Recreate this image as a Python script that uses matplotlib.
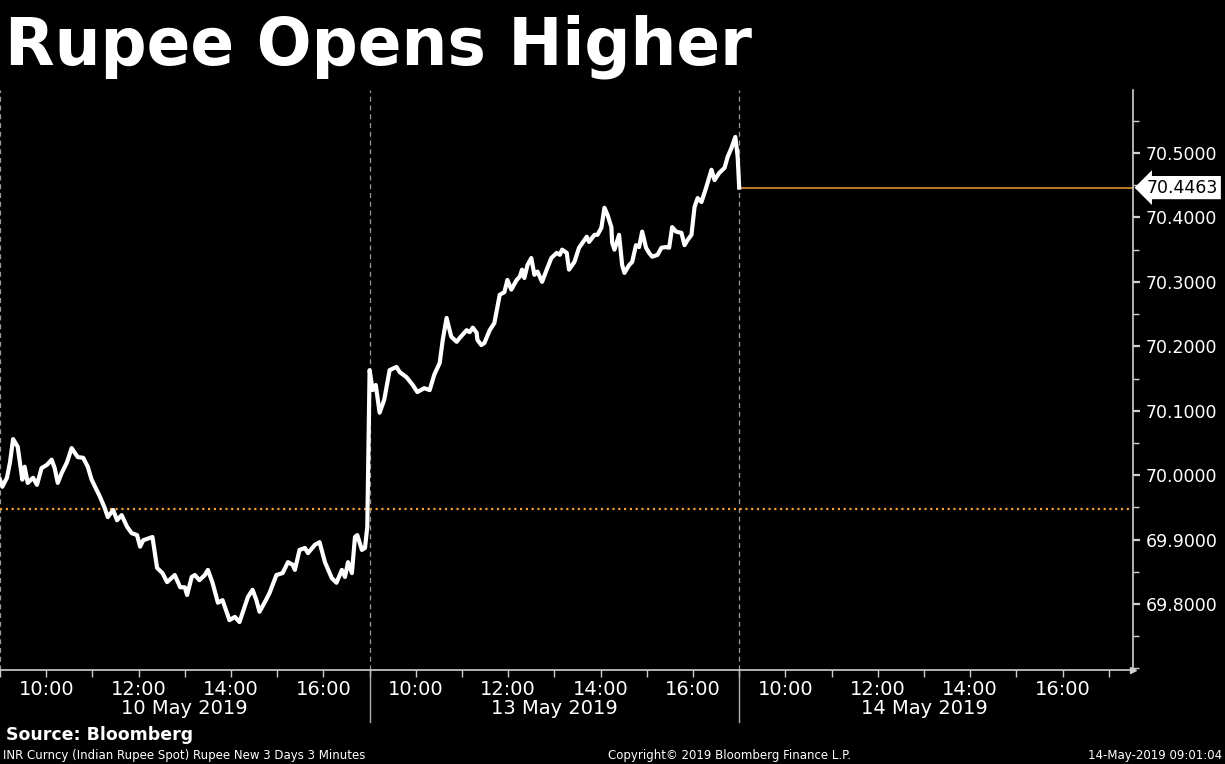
import numpy as np
import matplotlib
matplotlib.use("Agg")
import matplotlib.pyplot as plt
import matplotlib.transforms as mtransforms
from matplotlib.ticker import FixedLocator, MultipleLocator

plt.rcParams['font.family'] = ['DejaVu Sans']

# INR spot, 3 minute bars
may10_times = ["09:00", "09:03", "09:09", "09:13", "09:17", "09:23", "09:29", "09:32", "09:36", "09:43",
               "09:48", "09:54", "10:01", "10:07", "10:11", "10:15", "10:20", "10:27", "10:33", "10:41",
               "10:48", "10:54", "10:59", "11:10", "11:16", "11:20", "11:27", "11:32", "11:38", "11:45",
               "11:51", "11:58", "12:02", "12:06", "12:18", "12:24", "12:31", "12:37", "12:47", "12:54",
               "13:00", "13:03", "13:09", "13:13", "13:19", "13:26", "13:30", "13:36", "13:43", "13:49",
               "13:58", "14:05", "14:11", "14:22", "14:28", "14:33", "14:37", "14:44", "14:50", "14:59",
               "15:07", "15:14", "15:20", "15:23", "15:29", "15:36", "15:40", "15:49", "15:55", "16:02",
               "16:11", "16:17", "16:24", "16:28", "16:32", "16:37", "16:41", "16:44", "16:50", "16:54",
               "16:57"]
may10_vals = [69.993, 69.982, 69.996, 70.020, 70.056, 70.044, 69.993, 70.013, 69.988, 69.996,
              69.985, 70.011, 70.016, 70.024, 70.011, 69.988, 70.003, 70.020, 70.042, 70.028,
              70.027, 70.013, 69.993, 69.966, 69.949, 69.935, 69.946, 69.930, 69.938, 69.920,
              69.910, 69.907, 69.889, 69.899, 69.904, 69.856, 69.848, 69.834, 69.845, 69.826,
              69.826, 69.814, 69.842, 69.845, 69.837, 69.845, 69.853, 69.833, 69.802, 69.806,
              69.775, 69.780, 69.772, 69.811, 69.822, 69.806, 69.788, 69.803, 69.817, 69.845,
              69.848, 69.865, 69.861, 69.853, 69.884, 69.887, 69.879, 69.892, 69.896, 69.865,
              69.840, 69.833, 69.853, 69.842, 69.865, 69.848, 69.904, 69.907, 69.884, 69.887,
              69.920]

may13_times = ["09:00", "09:04", "09:08", "09:13", "09:19", "09:26", "09:35", "09:39", "09:48", "09:56",
               "10:02", "10:11", "10:18", "10:24", "10:31", "10:35", "10:40", "10:46", "10:53", "10:57",
               "11:06", "11:10", "11:14", "11:19", "11:20", "11:25", "11:29", "11:36", "11:42", "11:49",
               "11:55", "11:59", "12:04", "12:11", "12:15", "12:18", "12:21", "12:25", "12:30", "12:34",
               "12:38", "12:44", "12:50", "12:56", "13:03", "13:07", "13:10", "13:16", "13:19", "13:26",
               "13:32", "13:39", "13:42", "13:45", "13:52", "13:56", "14:01", "14:05", "14:09", "14:14",
               "14:15", "14:18", "14:24", "14:28", "14:31", "14:37", "14:41", "14:46", "14:50", "14:54",
               "14:59", "15:03", "15:07", "15:14", "15:19", "15:25", "15:29", "15:33", "15:38", "15:45",
               "15:49", "15:53", "15:58", "16:02", "16:06", "16:11", "16:17", "16:24", "16:28", "16:34",
               "16:41", "16:45", "16:50", "16:55", "16:58", "17:00"]
may13_vals = [70.163, 70.132, 70.140, 70.097, 70.117, 70.163, 70.168, 70.160, 70.152, 70.140,
              70.129, 70.135, 70.132, 70.156, 70.174, 70.210, 70.244, 70.215, 70.207, 70.213,
              70.225, 70.222, 70.229, 70.221, 70.210, 70.202, 70.205, 70.225, 70.236, 70.280,
              70.284, 70.303, 70.288, 70.303, 70.308, 70.319, 70.306, 70.326, 70.337, 70.311,
              70.316, 70.300, 70.319, 70.337, 70.345, 70.342, 70.350, 70.345, 70.319, 70.331,
              70.353, 70.365, 70.370, 70.362, 70.373, 70.373, 70.384, 70.415, 70.404, 70.385,
              70.361, 70.350, 70.373, 70.326, 70.314, 70.326, 70.331, 70.357, 70.354, 70.378,
              70.353, 70.345, 70.339, 70.342, 70.353, 70.354, 70.353, 70.385, 70.378, 70.376,
              70.357, 70.365, 70.373, 70.416, 70.430, 70.424, 70.446, 70.474, 70.458, 70.469,
              70.477, 70.494, 70.508, 70.525, 70.494, 70.4463]

last_price = 70.4463
prev_close = 69.9475
day_labels = ["10 May 2019", "13 May 2019", "14 May 2019"]
hour_labels = ["10:00", "12:00", "14:00", "16:00"]

SESSION_START = 9
SESSION_LEN = 8


def to_x(times, day):
    out = []
    for t in times:
        h, m = t.split(":")
        out.append(day * SESSION_LEN + int(h) - SESSION_START + int(m) / 60.0)
    return np.array(out)


x = np.concatenate([to_x(may10_times, 0), to_x(may13_times, 1)])
y = np.array(may10_vals + may13_vals)

fig = plt.figure(figsize=(12.25, 7.64), dpi=100, facecolor='black')
ax = fig.add_axes([0, 94 / 764, 1133 / 1225, 580 / 764])
ax.set_facecolor('black')

axis_col = '#d0d0d0'
orange = '#f39c35'

ax.set_xlim(0, 1133 / 46.2)
ax.set_ylim(69.6976, 70.5978)

# session separators
for d in range(3):
    ax.axvline(d * SESSION_LEN, color='#9a9a9a', lw=0.9, ls=(0, (4, 3)), zorder=1)

ax.axhline(prev_close, color=orange, lw=1.6, ls=(0, (1, 1.6)), zorder=2)
ax.plot([2 * SESSION_LEN, ax.get_xlim()[1]], [last_price, last_price], color=orange, lw=1.1, zorder=2)
ax.plot(x, y, color='white', lw=3, solid_joinstyle='round', zorder=3)

for s in ['top', 'left']:
    ax.spines[s].set_visible(False)
for s in ['bottom', 'right']:
    ax.spines[s].set_color(axis_col)
    ax.spines[s].set_linewidth(1.2)

# y axis on the right
ax.yaxis.tick_right()
ax.yaxis.set_major_locator(FixedLocator(np.arange(69.8, 70.55, 0.1)))
ax.yaxis.set_minor_locator(MultipleLocator(0.05))
ax.yaxis.set_major_formatter(plt.FuncFormatter(lambda v, p: f"{v:.4f}"))
ax.tick_params(axis='y', which='major', direction='out', length=5, width=1.6, color=axis_col,
               labelcolor='white', labelsize=12.5, pad=4)
ax.tick_params(axis='y', which='minor', direction='out', length=4, width=1, color=axis_col)

# x axis: hour ticks, labels every two hours
majors = [d * SESSION_LEN + k for d in range(3) for k in (1, 3, 5, 7)]
ax.xaxis.set_major_locator(FixedLocator(majors))
ax.xaxis.set_minor_locator(FixedLocator([h for h in range(0, 25)]))
ax.set_xticklabels(hour_labels * 3)
ax.tick_params(axis='x', which='both', direction='out', length=5, width=1, color=axis_col,
               labelcolor='white', labelsize=14, pad=2)

trans = mtransforms.blended_transform_factory(ax.transData, ax.transAxes)
for d in range(3):
    ax.text(d * SESSION_LEN + SESSION_LEN / 2, -0.067, day_labels[d], transform=trans,
            ha='center', va='center', color='white', fontsize=14)
for d in (1, 2):
    ax.plot([d * SESSION_LEN] * 2, [0, -0.09], transform=trans, color='#b0b0b0', lw=1, clip_on=False)

ax.plot([1], [0], marker='>', ms=4, color=axis_col, transform=ax.transAxes, clip_on=False)

# last price tag
ytrans = mtransforms.blended_transform_factory(ax.transAxes, ax.transData)
ax.annotate(f"{last_price:.4f}", xy=(1, last_price), xycoords=ytrans, xytext=(10, 0),
            textcoords='offset points', ha='left', va='center', color='black', fontsize=12.5,
            bbox=dict(boxstyle='larrow,pad=0.15', fc='white', ec='none'), annotation_clip=False)

fig.text(5 / 1225, 1 - 47 / 764, "Rupee Opens Higher", color='white', fontsize=46.5,
         fontweight='bold', ha='left', va='center')
fig.text(6 / 1225, 1 - 735 / 764, "Source: Bloomberg", color='white', fontsize=12.5,
         fontweight='bold', ha='left', va='center')
fig.text(3 / 1225, 1 - 755 / 764, "INR Curncy (Indian Rupee Spot) Rupee New 3 Days 3 Minutes",
         color='white', fontsize=8.5, ha='left', va='center')
fig.text(729 / 1225, 1 - 755 / 764, "Copyright\u00a9 2019 Bloomberg Finance L.P.",
         color='white', fontsize=8.5, ha='center', va='center')
fig.text(1222 / 1225, 1 - 755 / 764, "14-May-2019 09:01:04",
         color='white', fontsize=8.5, ha='right', va='center')

fig.savefig("out.png", dpi=100, facecolor='black')
